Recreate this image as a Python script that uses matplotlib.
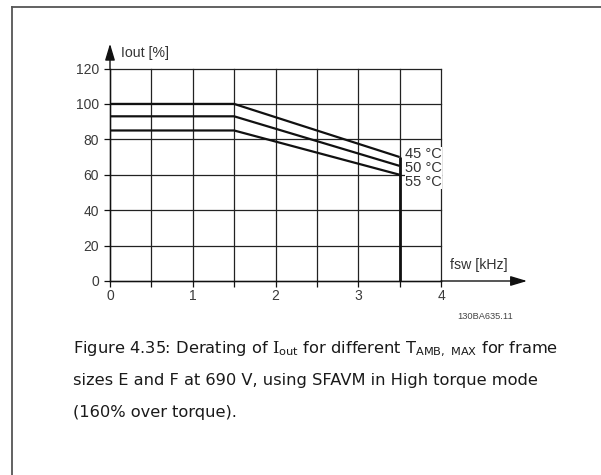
import matplotlib
matplotlib.use("Agg")
import matplotlib.pyplot as plt
from matplotlib.lines import Line2D

# Switching frequency (kHz) break points and output current (%) per ambient temperature
fsw_khz = [0.0, 1.5, 3.5]
iout_45c = [100, 100, 70]
iout_50c = [93, 93, 65]
iout_55c = [85, 85, 60]
temp_labels = ["45 °C", "50 °C", "55 °C"]
fsw_max = 3.5

x_ticks = [0, 0.5, 1, 1.5, 2, 2.5, 3, 3.5, 4]
x_tick_labels = ["0", "", "1", "", "2", "", "3", "", "4"]
y_ticks = [0, 20, 40, 60, 80, 100, 120]
y_tick_labels = ["0", "20", "40", "60", "80", "100", "120"]

W, H = 601, 475
plt.rcParams["mathtext.fontset"] = "custom"
plt.rcParams["mathtext.rm"] = "DejaVu Serif"
plt.rcParams["mathtext.sf"] = "DejaVu Sans"

fig = plt.figure(figsize=(W / 100, H / 100), dpi=100)
fig.patch.set_facecolor("white")


def fx(px):
    return px / W


def fy(py):
    return 1 - py / H


# page frame (top and left rules)
frame_kw = dict(color="#555555", lw=1.3, transform=fig.transFigure)
fig.add_artist(Line2D([fx(11.5), 1.0], [fy(7), fy(7)], **frame_kw))
fig.add_artist(Line2D([fx(11.5), fx(11.5)], [fy(7), 0.0], **frame_kw))

ax_left, ax_right = 110, 441
ax_top, ax_bottom = 68.5, 281
ax = fig.add_axes([fx(ax_left), fy(ax_bottom), (ax_right - ax_left) / W,
                   (ax_bottom - ax_top) / H])
ax.set_xlim(0, 4)
ax.set_ylim(0, 120)

grid_color = "#222222"
ax.set_xticks(x_ticks)
ax.set_xticklabels(x_tick_labels)
ax.set_yticks(y_ticks)
ax.set_yticklabels(y_tick_labels)
ax.grid(True, color=grid_color, lw=0.9)
for gl in ax.get_xgridlines() + ax.get_ygridlines():
    gl.set_clip_on(False)
ax.set_axisbelow(True)
for side in ("top", "right"):
    ax.spines[side].set_visible(False)
for side in ("left", "bottom"):
    ax.spines[side].set_color("#111111")
    ax.spines[side].set_linewidth(1.0)
ax.tick_params(direction="out", length=4, width=0.9, color="#111111",
               labelsize=10, labelcolor="#3a3a3a")
ax.tick_params(axis="y", pad=4)
ax.tick_params(axis="x", pad=2)
for lab in ax.get_xticklabels() + ax.get_yticklabels():
    lab.set_family("Liberation Sans")

# derating curves
for vals in (iout_45c, iout_50c, iout_55c):
    ax.plot(fsw_khz, vals, color="#111111", lw=1.6, solid_capstyle="butt",
            solid_joinstyle="miter", zorder=3)
# cut-off at maximum switching frequency
ax.plot([fsw_max, fsw_max], [0, iout_45c[-1]], color="#111111", lw=2.0,
        solid_capstyle="butt", zorder=3)

# temperature labels with a white backing that hides the grid behind them
label_y = [71.5, 63.8, 55.8]
for txt, ly in zip(temp_labels, label_y):
    ax.text(3.565, ly, txt, fontsize=10.5, family="Liberation Sans",
            color="#333333", va="center", ha="left", zorder=4,
            bbox=dict(facecolor="white", edgecolor="none", pad=0.2))

# axis arrows
arrow_kw = dict(arrowstyle="-|>,head_length=1.0,head_width=0.3",
                color="#111111", lw=1.0, shrinkA=0, shrinkB=0)
ax.annotate("", xy=(5.04, 0), xytext=(4.0, 0), xycoords="data",
            arrowprops=arrow_kw, annotation_clip=False)
ax.annotate("", xy=(0, 134), xytext=(0, 120), xycoords="data",
            arrowprops=arrow_kw, annotation_clip=False)

ax.text(0.13, 128.5, "Iout [%]", fontsize=10.2, family="Liberation Sans",
        color="#333333", va="center", ha="left", clip_on=False)
ax.text(4.11, 9, "fsw [kHz]", fontsize=10.2, family="Liberation Sans",
        color="#333333", va="center", ha="left", clip_on=False)
ax.text(4.53, -20.3, "130BA635.11", fontsize=6.7, family="Liberation Sans",
        color="#444444", va="center", ha="center", clip_on=False)

# caption
cap_kw = dict(fontsize=11.7, family="DejaVu Sans", color="#1a1a1a",
              va="center", ha="left")
fig.text(fx(73), fy(349),
         r"Figure 4.35: Derating of $\mathrm{I}_{\mathsf{out}}$ for different "
         r"T$_{\mathsf{AMB,\ MAX}}$ for frame", **cap_kw)
fig.text(fx(73), fy(381),
         "sizes E and F at 690 V, using SFAVM in High torque mode", **cap_kw)
fig.text(fx(73), fy(413), "(160% over torque).", **cap_kw)

fig.savefig("out.png", dpi=100, facecolor="white")
